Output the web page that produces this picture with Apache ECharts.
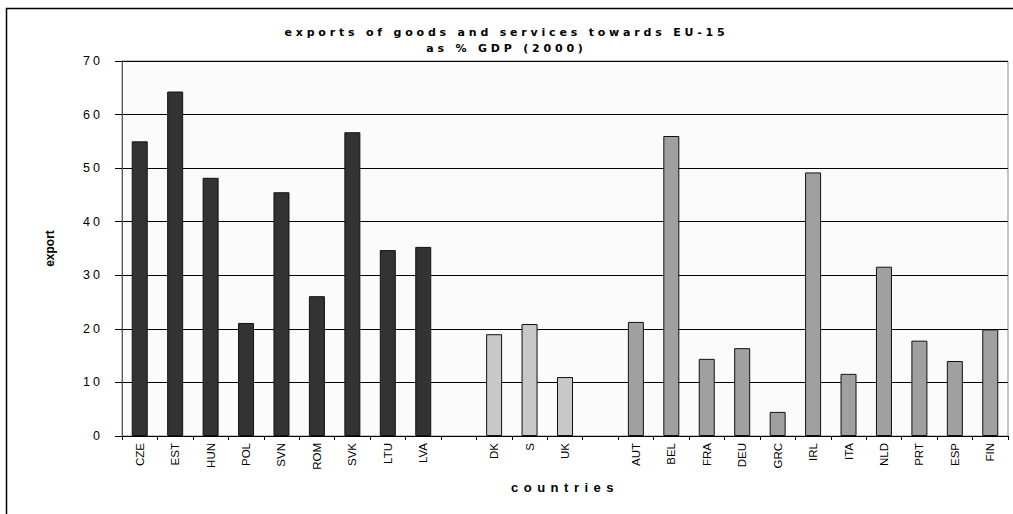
<!DOCTYPE html>
<html>
<head>
<meta charset="utf-8">
<script src="https://cdn.jsdelivr.net/npm/echarts@6/dist/echarts.min.js"></script>
<style>
  html, body { margin: 0; padding: 0; background: #fff; }
  #chart { width: 1013px; height: 514px; }
  /* spaced lettering like the original */
  #chart text[style*="DejaVu"] { letter-spacing: 3.8px; }
  #chart text[style*="Liberation"] { letter-spacing: 3px; }
  #chart text[style*="Liberation"][style*="bold"] { letter-spacing: 5.5px; }
</style>
</head>
<body>
<div id="chart"></div>
<script>
// categories (blank slots separate the groups)
const categories = ["CZE", "EST", "HUN", "POL", "SVN", "ROM", "SVK", "LTU", "LVA", "",
  "DK", "S", "UK", " ",
  "AUT", "BEL", "FRA", "DEU", "GRC", "IRL", "ITA", "NLD", "PRT", "ESP", "FIN"];

// export as % GDP
const ceecValues = [55.0, 64.3, 48.2, 21.1, 45.5, 26.1, 56.7, 34.7, 35.3];
const outsideEuroValues = [19.0, 20.9, 11.0];
const euroValues = [21.3, 56.0, 14.4, 16.4, 4.5, 49.2, 11.6, 31.6, 17.8, 14.0, 19.9];

const yTicks = [0, 10, 20, 30, 40, 50, 60, 70];

// place a group's values at its slots, null elsewhere
function place(values, start) {
  const arr = categories.map(() => null);
  values.forEach((v, i) => { arr[start + i] = v; });
  return arr;
}

const chart = echarts.init(document.getElementById("chart"), null, { renderer: "svg" });

function barSeries(name, data, color) {
  return {
    name: name,
    type: "bar",
    data: data,
    barWidth: 16,
    barGap: "-100%",
    itemStyle: { color: color, borderColor: "#111", borderWidth: 1 },
  };
}

const option = {
  animation: false,
  backgroundColor: "#fff",
  title: {
    text: "exports of goods and services towards EU-15\nas % GDP (2000)",
    left: "center",
    top: 19,
    textStyle: {
      fontFamily: "DejaVu Sans",
      fontSize: 11,
      fontWeight: "bold",
      color: "#000",
      lineHeight: 16,
    },
  },
  grid: {
    left: 122,
    right: 5,
    top: 61,
    bottom: 78,
    show: true,
    backgroundColor: "#fbfbfb",
    borderColor: "#8a8a8a",
    borderWidth: 1,
  },
  graphic: [
    {
      type: "rect",
      shape: { x: 6.5, y: 8.5, width: 1100, height: 600 },
      style: { fill: null, stroke: "#000", lineWidth: 1.5 },
      silent: true,
    },
  ],
  xAxis: {
    type: "category",
    data: categories,
    name: "countries",
    nameLocation: "middle",
    nameGap: 45,
    nameTextStyle: {
      fontFamily: "Liberation Sans",
      fontSize: 13,
      fontWeight: "bold",
      color: "#000",
    },
    axisLine: { lineStyle: { color: "#000", width: 1 } },
    axisTick: { show: true, length: 4, lineStyle: { color: "#000" } },
    axisLabel: {
      rotate: 90,
      interval: 0,
      margin: 7,
      fontFamily: "Arial",
      fontSize: 11.5,
      color: "#000",
    },
  },
  yAxis: {
    type: "value",
    min: yTicks[0],
    max: yTicks[yTicks.length - 1],
    interval: 10,
    name: "export",
    nameLocation: "middle",
    nameGap: 66,
    nameRotate: 90,
    nameTextStyle: {
      fontFamily: "Arial",
      fontSize: 12,
      fontWeight: "bold",
      color: "#000",
    },
    axisLine: { show: true, lineStyle: { color: "#555", width: 1 } },
    axisTick: { show: true, length: 7, lineStyle: { color: "#000" } },
    axisLabel: {
      margin: 19,
      fontFamily: "Liberation Sans",
      fontSize: 12.5,
      color: "#000",
    },
    splitLine: { lineStyle: { color: "#000", width: 1 } },
  },
  series: [
    barSeries("CEEC", place(ceecValues, 0), "#333333"),
    barSeries("outside euro", place(outsideEuroValues, 10), "#c8c8c8"),
    barSeries("euro area", place(euroValues, 14), "#a0a0a0"),
  ],
};

chart.setOption(option);
</script>
</body>
</html>
